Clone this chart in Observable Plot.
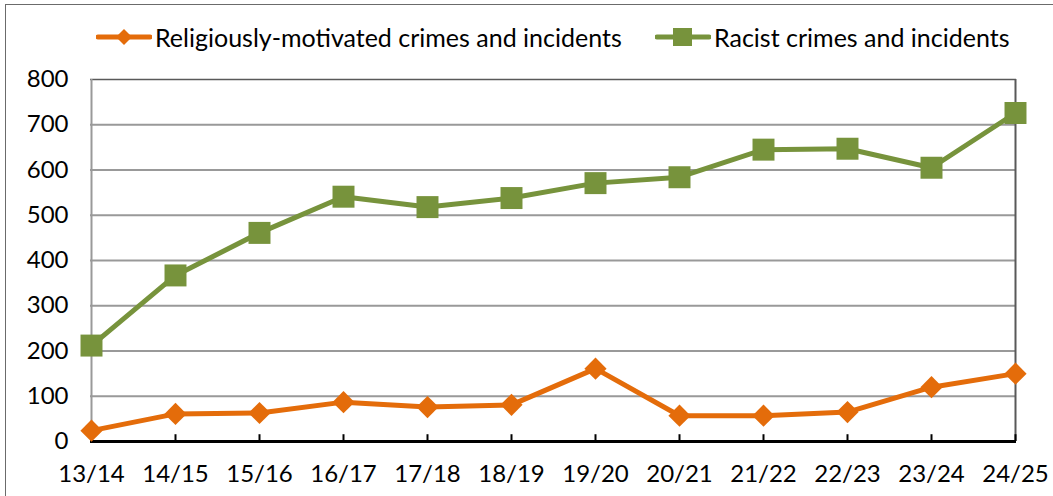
<!DOCTYPE html>
<html><head><meta charset="utf-8">
<script src="https://cdn.jsdelivr.net/npm/d3@7"></script>
<script src="https://cdn.jsdelivr.net/npm/@observablehq/plot@0.6"></script>
<style>
html,body{margin:0;padding:0;background:#fff;}
#chart{position:relative;width:1053px;height:496px;overflow:hidden;font-family:Lato,sans-serif;background:#fff;}
#frame{position:absolute;left:5px;top:4px;right:-10px;bottom:-10px;border-left:1px solid #6b6b6b;border-top:1px solid #6b6b6b;pointer-events:none;}
#legend{position:relative;height:62px;}
.item{position:absolute;top:22px;height:30px;display:flex;align-items:center;font-size:25px;color:#000;white-space:nowrap;}
.item svg{margin-right:3px;}
#plot svg{display:block;}
</style></head><body>
<div id="chart"><div id="legend"></div><div id="plot"></div><div id="frame"></div></div>
<script>
const periods = ["13/14","14/15","15/16","16/17","17/18","18/19","19/20","20/21","21/22","22/23","23/24","24/25"];
const religious = [24, 61, 63, 87, 76, 81, 161, 57, 57, 65, 120, 150];
const racist = [212, 367, 461, 541, 518, 538, 571, 584, 645, 647, 605, 726];
const seriesNames = ["Religiously-motivated crimes and incidents", "Racist crimes and incidents"];
const seriesColors = ["#E46C0A", "#77933C"];
const yTicks = [0, 100, 200, 300, 400, 500, 600, 700, 800];

const data = [
  ...periods.map((p, i) => ({period: p, value: religious[i], series: seriesNames[0]})),
  ...periods.map((p, i) => ({period: p, value: racist[i], series: seriesNames[1]}))
];

// Legend
const legend = document.getElementById("legend");
const legendLefts = [96, 655];
seriesNames.forEach((name, i) => {
  const item = document.createElement("div");
  item.className = "item";
  item.style.left = legendLefts[i] + "px";
  const marker = i === 0
    ? `<path d="M28,7 L36,15 L28,23 L20,15 Z" fill="${seriesColors[i]}"/>`
    : `<rect x="18" y="6" width="19" height="18" fill="${seriesColors[i]}"/>`;
  item.innerHTML = `<svg width="56" height="30"><line x1="2" x2="54" y1="15" y2="15" stroke="${seriesColors[i]}" stroke-width="5" stroke-linecap="round"/>${marker}</svg><span>${name}</span>`;
  legend.appendChild(item);
});

const plot = Plot.plot({
  width: 1053, height: 434,
  marginTop: 17, marginBottom: 55, marginLeft: 90, marginRight: 37,
  style: {fontFamily: "Lato, sans-serif", fontSize: "24px", color: "#000", background: "transparent", overflow: "visible"},
  x: {type: "point", domain: periods, padding: 0, label: null},
  y: {domain: [0, 800], ticks: yTicks, label: null},
  color: {domain: seriesNames, range: seriesColors},
  marks: [
    Plot.ruleY(yTicks.filter(v => v > 0 && v < 800), {stroke: "#999", strokeWidth: 2}),
    Plot.ruleY([800], {stroke: "#595959", strokeWidth: 1.5}),
    Plot.ruleX([periods[0]], {stroke: "#999", strokeWidth: 2}),
    Plot.ruleX([periods[periods.length - 1]], {stroke: "#595959", strokeWidth: 2}),
    Plot.ruleX(periods, {y1: 0, y2: 15, stroke: "#000", strokeWidth: 2}),
    Plot.ruleY([0], {stroke: "#000", strokeWidth: 3}),
    Plot.axisY(yTicks, {tickSize: 0, tickPadding: 22, fontSize: 24}),
    Plot.axisX(periods, {tickSize: 0, tickPadding: 23, fontSize: 24}),
    Plot.line(data, {x: "period", y: "value", z: "series", stroke: "series", strokeWidth: 5}),
    Plot.dot(data.filter(d => d.series === seriesNames[0]), {x: "period", y: "value", fill: "series", symbol: () => "diamond2", r: 10}),
    Plot.dot(data.filter(d => d.series === seriesNames[1]), {x: "period", y: "value", fill: "series", symbol: () => "square", r: 12.4})
  ]
});
document.getElementById("plot").appendChild(plot);
</script>
</body></html>
